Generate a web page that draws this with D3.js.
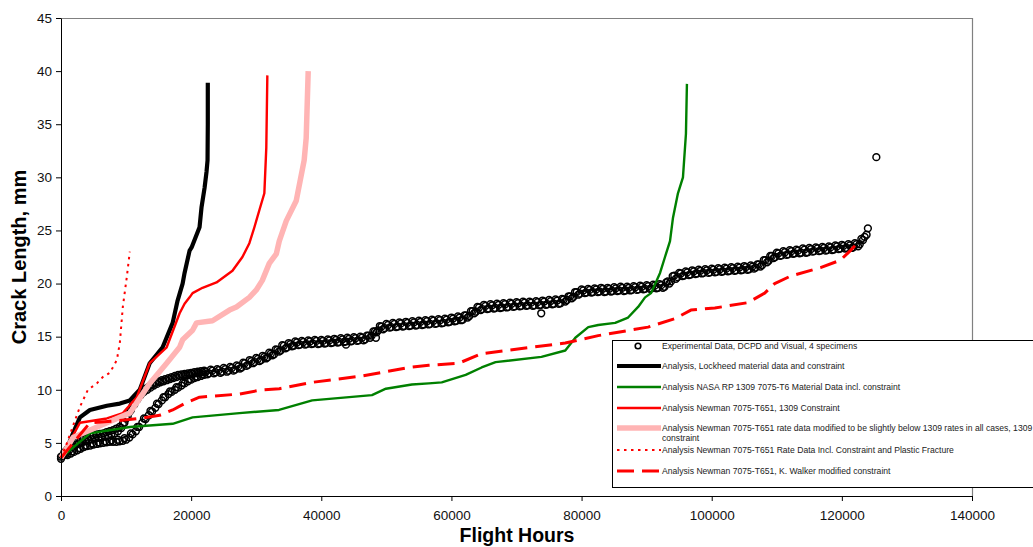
<!DOCTYPE html>
<html>
<head>
<meta charset="utf-8">
<script src="https://cdnjs.cloudflare.com/ajax/libs/d3/7.8.5/d3.min.js"></script>
<style>
body { margin: 0; background: #fff; }
svg { display: block; font-family: "Liberation Sans", Arial, sans-serif; }
.axis text { font-size: 13.5px; fill: #111; }
.axis path, .axis line { stroke: #000; }
.legend text { font-size: 8.6px; fill: #222; }
</style>
</head>
<body>
<svg id="chart" width="1033" height="547"></svg>
<script>
// tick labels
var xTicks = [0, 20000, 40000, 60000, 80000, 100000, 120000, 140000];
var yTicks = [0, 5, 10, 15, 20, 25, 30, 35, 40, 45];

var expSpecimen1 = [
    [0,3.7],[500,4.1],[1000,4.4],[1500,4.75],[2000,5.0],[2500,5.15],[3000,5.3],[3500,5.4],[4000,5.5],[4500,5.6],
    [5000,5.7],[5500,5.8],[6000,5.85],[6500,5.9],[7000,6.0],[7500,6.1],[8000,6.2],[8500,6.35],[9000,6.5],[9500,6.8],
    [10000,7.3],[10500,7.9],[11000,8.5],[11500,9.0],[12000,9.5],[12500,9.8],[13000,10.1],[13500,10.3],[14000,10.5],[14500,10.65],
    [15000,10.8],[15500,10.9],[16000,11.0],[16500,11.1],[17000,11.2],[17500,11.3],[18000,11.4],[18500,11.45],[19000,11.5],[19500,11.55],
    [20000,11.6],[20500,11.65],[21000,11.7],[21500,11.75],[22000,11.8],[23000,11.9],[24000,11.95],[25000,12.05],[26000,12.15],[27000,12.3],
    [28000,12.55],[29000,12.8],[30000,13.0],[31000,13.2],[32000,13.5],[33000,13.8],[34000,14.2],[35000,14.4],[36000,14.55],[37000,14.6],
    [38000,14.65],[39000,14.7],[40000,14.7],[41000,14.75],[42000,14.8],[43000,14.85],[44000,14.9],[45000,14.95],[46000,15.0],[47000,15.1],
    [48000,15.5],[49000,16.0],[50000,16.2],[51000,16.3],[52000,16.35],[53000,16.4],[54000,16.45],[55000,16.5],[56000,16.55],[57000,16.6],
    [58000,16.65],[59000,16.7],[60000,16.8],[61000,16.9],[62000,17.0],[63000,17.4],[64000,17.8],[65000,18.0],[66000,18.05],[67000,18.1],
    [68000,18.15],[69000,18.2],[70000,18.25],[71000,18.3],[72000,18.3],[73000,18.35],[74000,18.4],[75000,18.45],[76000,18.5],[77000,18.55],
    [78000,18.8],[79000,19.2],[80000,19.45],[81000,19.5],[82000,19.55],[83000,19.6],[84000,19.6],[85000,19.65],[86000,19.7],[87000,19.7],
    [88000,19.75],[89000,19.8],[90000,19.85],[91000,19.9],[92000,19.95],[93000,20.1],[94000,20.7],[95000,21.0],[96000,21.15],[97000,21.25],
    [98000,21.3],[99000,21.35],[100000,21.4],[101000,21.45],[102000,21.5],[103000,21.55],[104000,21.6],[105000,21.65],[106000,21.7],[107000,21.8],
    [108000,22.2],[109000,22.6],[110000,22.9],[111000,23.05],[112000,23.15],[113000,23.2],[114000,23.3],[115000,23.35],[116000,23.4],[117000,23.45],
    [118000,23.5],[119000,23.6],[120000,23.65],[121000,23.7],[122000,23.8],[123000,24.2]
];
var expSpecimen2 = [
    [0,3.5],[1000,3.85],[1500,4.0],[2000,4.15],[2500,4.3],[3000,4.45],[3500,4.6],[4000,4.7],[4500,4.75],[5000,4.85],
    [5500,4.9],[6000,4.95],[6500,5.0],[7000,5.05],[7500,5.1],[8000,5.1],[8500,5.1],[9000,5.15],[9500,5.2],[10000,5.3],
    [10500,5.5],[11000,5.8],[11500,6.1],[12000,6.5],[12500,6.9],[13000,7.25],[13500,7.6],[14000,7.95],[14500,8.3],[15000,8.65],
    [15500,9.0],[16000,9.3],[16500,9.6],[17000,9.8],[17500,10.0],[18000,10.2],[18500,10.4],[19000,10.6],[19500,10.8],[20000,10.95],
    [20500,11.1],[21000,11.2],[21500,11.3],[22000,11.4],[22500,11.45],[23500,11.55],[24500,11.6],[25500,11.7],[26500,11.8],[27500,12.0],
    [28500,12.25],[29500,12.5],[30500,12.7],[31500,12.95],[32500,13.25],[33500,13.6],[34500,13.9],[35500,14.1],[36500,14.2],[37500,14.25],
    [38500,14.3],[39500,14.3],[40500,14.35],[41500,14.4],[42500,14.45],[43500,14.5],[44500,14.55],[45500,14.6],[46500,14.65],[47500,14.9],
    [48500,15.4],[49500,15.7],[50500,15.85],[51500,15.9],[52500,15.95],[53500,16.0],[54500,16.05],[55500,16.1],[56500,16.15],[57500,16.2],
    [58500,16.25],[59500,16.35],[60500,16.45],[61500,16.55],[62500,16.8],[63500,17.2],[64500,17.5],[65500,17.6],[66500,17.65],[67500,17.7],
    [68500,17.75],[69500,17.8],[70500,17.85],[71500,17.9],[72500,17.9],[73500,17.95],[74500,18.0],[75500,18.05],[76500,18.1],[77500,18.3],
    [78500,18.6],[79500,18.95],[80500,19.1],[81500,19.15],[82500,19.2],[83500,19.2],[84500,19.25],[85500,19.3],[86500,19.3],[87500,19.35],
    [88500,19.4],[89500,19.45],[90500,19.5],[91500,19.55],[92500,19.6],[93500,20.0],[94500,20.45],[95500,20.7],[96500,20.8],[97500,20.9],
    [98500,20.95],[99500,21.0],[100500,21.05],[101500,21.1],[102500,21.15],[103500,21.2],[104500,21.25],[105500,21.3],[106500,21.4],[107500,21.6],
    [108500,22.0],[109500,22.4],[110500,22.6],[111500,22.7],[112500,22.8],[113500,22.85],[114500,22.9],[115500,23.0],[116500,23.05],[117500,23.1],
    [118500,23.15],[119500,23.25],[120500,23.3],[121500,23.35],[122500,23.5],[123500,24.4]
];
var expSpecimen3 = [
    [250,3.75],[750,4.05],[1250,4.3],[1750,4.6],[2250,4.8],[2750,4.95],[3250,5.05],[3750,5.15],[4250,5.25],[4750,5.35],
    [5250,5.45],[5750,5.5],[6250,5.55],[6750,5.65],[7250,5.7],[7750,5.8],[8250,5.9],[8750,6.1],[9250,6.4],[9750,6.9],
    [10250,7.5],[10750,8.1],[11250,8.6],[11750,9.1],[12250,9.5],[12750,9.8],[13250,10.0],[13750,10.2],[14250,10.4],[14750,10.55],
    [15250,10.7],[15750,10.8],[16250,10.9],[16750,11.0],[17250,11.1],[17750,11.2],[18250,11.3],[18750,11.35],[19250,11.4],[19750,11.45],
    [20250,11.5],[20750,11.55],[21250,11.6],[21750,11.65],[22250,11.7],[23250,11.8],[24250,11.85],[25250,11.95],[26250,12.05],[27250,12.2],
    [28250,12.5],[29250,12.7],[30250,12.9],[31250,13.1],[32250,13.4],[33250,13.75],[34250,14.15],[35250,14.3],[36250,14.45],[37250,14.5],
    [38250,14.55],[39250,14.6],[40250,14.6],[41250,14.65],[42250,14.7],[43250,14.75],[44250,14.8],[45250,14.85],[46250,14.9],[47250,15.1],
    [48250,15.5],[49250,15.95],[50250,16.1],[51250,16.2],[52250,16.25],[53250,16.3],[54250,16.35],[55250,16.4],[56250,16.45],[57250,16.5],
    [58250,16.55],[59250,16.6],[60250,16.7],[61250,16.8],[62250,17.0],[63250,17.4],[64250,17.75],[65250,17.9],[66250,17.95],[67250,18.0],
    [68250,18.05],[69250,18.1],[70250,18.15],[71250,18.2],[72250,18.2],[73250,18.25],[74250,18.3],[75250,18.35],[76250,18.4],[77250,18.5],
    [78250,18.8],[79250,19.2],[80250,19.35],[81250,19.4],[82250,19.45],[83250,19.5],[84250,19.5],[85250,19.55],[86250,19.6],[87250,19.6],
    [88250,19.65],[89250,19.7],[90250,19.75],[91250,19.8],[92250,19.85],[93250,20.2],[94250,20.75],[95250,20.95],[96250,21.05],[97250,21.15],
    [98250,21.2],[99250,21.25],[100250,21.3],[101250,21.35],[102250,21.4],[103250,21.45],[104250,21.5],[105250,21.55],[106250,21.6],[107250,21.8],
    [108250,22.2],[109250,22.6],[110250,22.85],[111250,22.95],[112250,23.05],[113250,23.1],[114250,23.2],[115250,23.25],[116250,23.3],[117250,23.35],
    [118250,23.4],[119250,23.5],[120250,23.55],[121250,23.6],[122250,23.7],[123250,24.1]
];
var expSpecimen4 = [
    [750,3.9],[1750,4.2],[2750,4.5],[3750,4.75],[4750,4.95],[5750,5.05],[6750,5.15],[7750,5.25],[8750,5.3],[9750,5.45],
    [10750,5.9],[11750,6.5],[12750,7.3],[13750,8.0],[14750,8.7],[15750,9.3],[16750,9.85],[17750,10.25],[18750,10.65],[19750,11.0],
    [20750,11.25],[21750,11.45],[22750,11.55],[23750,11.65],[24750,11.7],[25750,11.8],[26750,11.9],[27750,12.1],[28750,12.35],[29750,12.6],
    [30750,12.8],[31750,13.05],[32750,13.35],[33750,13.7],[34750,14.0],[35750,14.15],[36750,14.25],[37750,14.3],[38750,14.35],[39750,14.35],
    [40750,14.4],[41750,14.45],[42750,14.5],[43750,14.55],[44750,14.6],[45750,14.65],[46750,14.75],[47750,15.1],[48750,15.6],[49750,15.8],
    [50750,15.9],[51750,15.95],[52750,16.0],[53750,16.05],[54750,16.1],[55750,16.15],[56750,16.2],[57750,16.25],[58750,16.3],[59750,16.4],
    [60750,16.5],[61750,16.6],[62750,16.95],[63750,17.35],[64750,17.6],[65750,17.65],[66750,17.7],[67750,17.75],[68750,17.8],[69750,17.85],
    [70750,17.9],[71750,17.95],[72750,17.95],[73750,18.0],[74750,18.05],[75750,18.1],[76750,18.15],[77750,18.45],[78750,18.75],[79750,19.05],
    [80750,19.15],[81750,19.2],[82750,19.25],[83750,19.25],[84750,19.3],[85750,19.35],[86750,19.35],[87750,19.4],[88750,19.45],[89750,19.5],
    [90750,19.55],[91750,19.6],[92750,19.7],[93750,20.2],[94750,20.6],[95750,20.75],[96750,20.85],[97750,20.95],[98750,21.0],[99750,21.05],
    [100750,21.1],[101750,21.15],[102750,21.2],[103750,21.25],[104750,21.3],[105750,21.35],[106750,21.5],[107750,21.75],[108750,22.15],[109750,22.5],
    [110750,22.65],[111750,22.75],[112750,22.85],[113750,22.9],[114750,22.95],[115750,23.05],[116750,23.1],[117750,23.15],[118750,23.2],[119750,23.3],
    [120750,23.35],[121750,23.4],[122750,23.7]
];
var expScattered = [[43800,14.25],[48400,14.9],[73800,17.2],[123800,24.6],[124000,25.2],[125300,31.9]];

// analysis curves, [flight hours, crack length mm]
var lockheed = [[0,3.6],[1000,4.6],[1840,5.9],[2910,7.4],[4440,8.1],[7050,8.5],[9040,8.7],[10570,9.0],[12100,10.0],[13630,12.5],
    [15620,14.0],[17160,16.3],[17920,18.4],[18690,20.0],[18990,21.0],[19760,23.1],[20070,23.4],[21290,25.3],[21600,27.2],[22060,29.0],
    [22360,30.5],[22520,31.6],[22560,35.0],[22560,38.9]];
var nasa1309 = [[0,3.6],[4440,5.9],[10570,6.5],[17160,6.8],[20220,7.4],[27420,7.8],[33500,8.1],[38600,9.0],[47790,9.5],[49930,10.1],
    [53920,10.5],[56520,10.6],[58510,10.7],[62190,11.4],[64640,12.1],[66780,12.6],[73830,13.1],[77500,13.7],[79040,14.9],[81030,15.9],
    [82560,16.1],[85160,16.3],[87150,16.8],[88690,17.8],[89760,18.7],[90680,19.1],[92060,21.0],[92820,22.5],[93590,24.0],[94050,26.2],
    [94810,28.5],[95580,30.0],[96040,34.1],[96190,38.8]];
var newman1309 = [[0,3.6],[2910,6.9],[7050,7.3],[9500,7.8],[11640,9.3],[13630,12.5],[16240,14.0],[18230,17.2],[18990,18.1],[19760,18.7],
    [20220,19.1],[21750,19.6],[23900,20.1],[26350,21.2],[27880,22.5],[28950,23.8],[29720,25.3],[30480,26.9],[31250,28.5],[31550,32.8],
    [31710,39.6]];
var newmanModified = [[0,3.6],[1840,5.5],[7050,6.9],[10570,7.8],[13630,10.6],[16240,12.5],[18230,14.0],[18690,14.7],[20220,15.6],[20830,16.3],
    [23280,16.5],[25890,17.5],[26960,17.8],[28950,18.7],[30020,19.4],[30940,20.3],[32010,21.9],[33090,22.8],[33540,24.0],[34620,25.9],
    [36150,27.8],[37370,31.6],[37680,33.7],[37990,40.0]];
var newmanPlastic = [[0,3.6],[920,5.0],[2140,7.1],[2910,8.4],[4140,10.0],[5510,10.6],[6430,11.2],[7510,11.6],[8580,12.8],[9040,14.4],
    [9500,17.8],[10110,20.6],[10570,23.0]];
var newmanWalker = [[0,3.6],[4440,6.9],[9040,7.1],[12100,7.3],[15160,7.6],[17160,8.1],[19300,8.8],[21290,9.3],[27420,9.6],[30940,10.0],
    [33540,10.1],[38600,10.7],[46260,11.3],[49930,11.7],[53460,12.1],[56520,12.3],[61120,12.5],[64640,13.4],[72300,14.0],[77500,14.4],
    [82560,15.1],[90220,15.9],[94350,16.7],[96800,17.5],[100480,17.7],[105530,18.2],[108140,19.1],[109670,20.0],[112120,20.7],[116720,21.5],
    [119780,22.2],[121310,23.1],[122380,23.8]];

var legendLabels = [
    "Experimental Data, DCPD and Visual, 4 specimens",
    "Analysis, Lockheed material data and constraint",
    "Analysis NASA RP 1309 7075-T6 Material Data incl. constraint",
    "Analysis Newman 7075-T651, 1309 Constraint",
    ["Analysis Newman 7075-T651 rate data modified to be slightly below 1309 rates in all cases, 1309", "constraint"],
    "Analysis Newman 7075-T651 Rate Data Incl. Constraint and Plastic Fracture",
    "Analysis Newman 7075-T651, K. Walker modified constraint"
];

var plot = { left: 61, right: 972, top: 18, bottom: 496 };

var x = d3.scaleLinear().domain([0, 140000]).range([plot.left, plot.right]);
var y = d3.scaleLinear().domain([0, 45]).range([plot.bottom, plot.top]);

var svg = d3.select("#chart");

// top / right frame of the plot area
svg.append("path")
    .attr("d", "M" + plot.left + "," + (plot.top + 0.5) + "H" + (plot.right + 0.5) + "V" + plot.bottom)
    .attr("fill", "none")
    .attr("stroke", "#808080")
    .attr("stroke-width", 1.2);

var styles = [
    { data: lockheed, color: "#000", width: 4.2, dash: null },
    { data: nasa1309, color: "#008000", width: 2.4, dash: null },
    { data: newman1309, color: "#ff0000", width: 2.4, dash: null },
    { data: newmanModified, color: "#ffb4b4", width: 5.5, dash: null },
    { data: newmanPlastic, color: "#ff0000", width: 2, dash: "2.5,4.5" },
    { data: newmanWalker, color: "#ff0000", width: 3, dash: "17,8" }
];

var line = d3.line()
    .x(function(d) { return x(d[0]); })
    .y(function(d) { return y(d[1]); });

// experimental points first (bottom series)
var expAll = expSpecimen1.concat(expSpecimen2, expSpecimen3, expSpecimen4, expScattered);
svg.append("g").selectAll("circle")
    .data(expAll)
    .enter().append("circle")
    .attr("cx", function(d) { return x(d[0]); })
    .attr("cy", function(d) { return y(d[1]); })
    .attr("r", 3.4)
    .attr("fill", "none")
    .attr("stroke", "#000")
    .attr("stroke-width", 1.5);

svg.append("g").selectAll("path")
    .data(styles)
    .enter().append("path")
    .attr("d", function(s) { return line(s.data); })
    .attr("fill", "none")
    .attr("stroke", function(s) { return s.color; })
    .attr("stroke-width", function(s) { return s.width; })
    .attr("stroke-dasharray", function(s) { return s.dash; })
    .attr("stroke-linejoin", "round");

// axes
var xAxis = d3.axisBottom(x).tickValues(xTicks).tickSize(5).tickSizeOuter(0).tickPadding(9)
    .tickFormat(function(d) { return String(d); });
var yAxis = d3.axisLeft(y).tickValues(yTicks).tickSize(5).tickSizeOuter(0).tickPadding(4);

svg.append("g")
    .attr("class", "x axis")
    .attr("transform", "translate(0," + plot.bottom + ")")
    .call(xAxis);

svg.append("g")
    .attr("class", "y axis")
    .attr("transform", "translate(" + plot.left + ",0)")
    .call(yAxis);

svg.append("text")
    .text("Crack Length, mm")
    .attr("font-size", 20)
    .attr("font-weight", "bold")
    .attr("fill", "#000")
    .attr("text-anchor", "middle")
    .attr("transform", "translate(26,257) rotate(-90)");

svg.append("text")
    .text("Flight Hours")
    .attr("font-size", 19.5)
    .attr("font-weight", "bold")
    .attr("fill", "#000")
    .attr("text-anchor", "middle")
    .attr("x", 517)
    .attr("y", 542);

// legend
var legend = svg.append("g").attr("class", "legend");
legend.append("rect")
    .attr("x", 612.5).attr("y", 340.5)
    .attr("width", 500).attr("height", 147)
    .attr("fill", "#fff")
    .attr("stroke", "#000");

var rowY = [346, 366, 387, 408, 428, 450, 471];

legend.append("circle")
    .attr("cx", 638).attr("cy", rowY[0])
    .attr("r", 2.8)
    .attr("fill", "#fff")
    .attr("stroke", "#000")
    .attr("stroke-width", 1.6);

styles.forEach(function(s, i) {
    legend.append("line")
        .attr("x1", 617).attr("x2", 661)
        .attr("y1", rowY[i + 1]).attr("y2", rowY[i + 1])
        .attr("stroke", s.color)
        .attr("stroke-width", s.width)
        .attr("stroke-dasharray", s.dash);
});

legendLabels.forEach(function(lab, i) {
    var lines = Array.isArray(lab) ? lab : [lab];
    lines.forEach(function(t, j) {
        legend.append("text")
            .attr("x", 662)
            .attr("y", rowY[i] + 3 + j * 10)
            .text(t);
    });
});
</script>
</body>
</html>
